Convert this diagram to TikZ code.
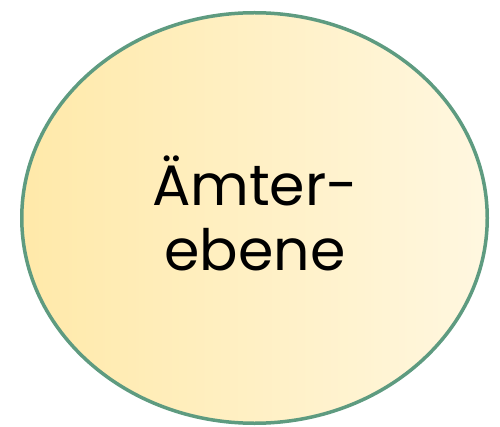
\documentclass[tikz,border=0pt]{standalone}
\usepackage{fontspec}
\setmainfont{Poppins}
\usetikzlibrary{shapes.geometric}
\definecolor{rim}{HTML}{5E9B80}
\definecolor{fillL}{HTML}{FFE9A9}
\definecolor{fillR}{HTML}{FFF7E0}
\tikzset{
  bubble/.style={ellipse, draw=rim, line width=3.5pt, left color=fillL, right color=fillR,
    minimum width=465.5pt, minimum height=410.5pt, inner sep=0pt},
  label/.style={align=center, font=\fontsize{57}{65}\selectfont, inner sep=0pt}
}
\begin{document}
\begin{tikzpicture}[x=1pt,y=1pt]
\useasboundingbox (0,0) rectangle (500,426);
\node[bubble] (e) at (254.5,208) {};
\node[label] (t) at (255,213) {Ämter-\\ebene};
\end{tikzpicture}
\end{document}
